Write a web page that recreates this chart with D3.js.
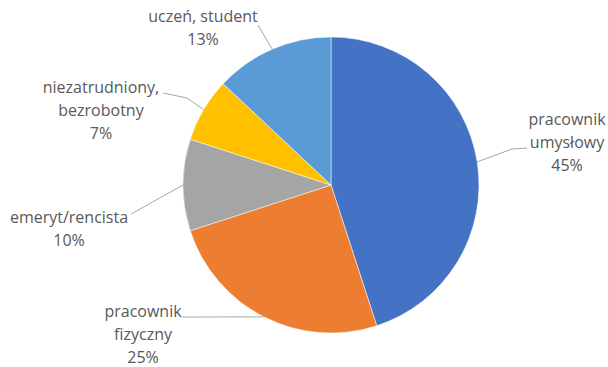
<!DOCTYPE html>
<html>
<head>
<meta charset="utf-8">
<script src="https://cdn.jsdelivr.net/npm/d3@7"></script>
<style>
  html, body { margin: 0; padding: 0; background: #fff; }
  svg { display: block; }
</style>
</head>
<body>
<svg id="chart" width="608" height="367"></svg>
<script>
// Respondents by occupation (percent)
const categories = ["pracownik umysłowy", "pracownik fizyczny", "emeryt/rencista", "niezatrudniony, bezrobotny", "uczeń, student"];
const values = [45, 25, 10, 7, 13];
const colors = ["#4472C4", "#ED7D31", "#A5A5A5", "#FFC000", "#5B9BD5"];

// Label text lines for each slice
const labelLines = [
  ["pracownik", "umysłowy"],
  ["pracownik", "fizyczny"],
  ["emeryt/rencista"],
  ["niezatrudniony,", "bezrobotny"],
  ["uczeń, student"]
];

// Label block placement (centre x, first baseline y) and leader line start
const labelLayout = [
  { x: 567, y: 125, line: [[527, 148], [512, 149]] },
  { x: 143, y: 317, line: [[182, 317]] },
  { x: 69,  y: 223, line: [[131, 214]] },
  { x: 101, y: 93,  line: [[163, 93], [187, 98]] },
  { x: 203, y: 22,  line: [[258, 25]] }
];

const width = 608, height = 367;
const cx = 331, cy = 185, radius = 148;

const svg = d3.select("#chart");
const g = svg.append("g").attr("transform", `translate(${cx},${cy})`);

const pie = d3.pie().sort(null).value(d => d).startAngle(0).endAngle(2 * Math.PI);
const arcs = pie(values);
const arc = d3.arc().innerRadius(0).outerRadius(radius);

g.selectAll("path.slice")
  .data(arcs)
  .join("path")
  .attr("class", "slice")
  .attr("d", arc)
  .attr("fill", (d, i) => colors[i])
  .attr("stroke", "#fff")
  .attr("stroke-width", 0.5);

// Leader lines: from label to the slice edge at its mid-angle
const lineGen = d3.line();
arcs.forEach((d, i) => {
  const mid = (d.startAngle + d.endAngle) / 2;
  const edge = [cx + radius * Math.sin(mid), cy - radius * Math.cos(mid)];
  const pts = labelLayout[i].line.concat([edge]);
  svg.append("path")
    .attr("d", lineGen(pts))
    .attr("fill", "none")
    .attr("stroke", "#A6A6A6")
    .attr("stroke-width", 1);
});

// Labels: category name lines followed by percentage
const lineH = 23;
arcs.forEach((d, i) => {
  const lay = labelLayout[i];
  const lines = labelLines[i].concat([d.data + "%"]);
  const t = svg.append("text")
    .attr("text-anchor", "middle")
    .attr("font-family", "'Open Sans', sans-serif")
    .attr("font-size", 16)
    .attr("fill", "#595959");
  lines.forEach((s, k) => {
    t.append("tspan")
      .attr("x", lay.x)
      .attr("y", lay.y + k * lineH)
      .text(s);
  });
});
</script>
</body>
</html>
